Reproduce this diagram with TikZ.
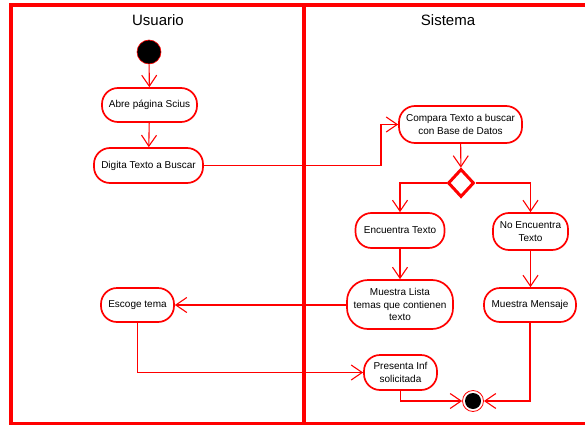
\documentclass[tikz,border=0pt]{standalone}
\usepackage{fontspec}
\setmainfont{Liberation Sans}
\usetikzlibrary{arrows.meta,shapes.geometric}
\definecolor{lanered}{RGB}{255,0,0}
\tikzset{
  act/.style={draw=lanered, line width=1.7pt, rounded corners=16pt, fill=white,
    align=center, inner sep=1pt, font=\fontsize{10}{12.5}\selectfont},
  lane/.style={draw=lanered, line width=3.5pt},
  conn/.style={draw=lanered, line width=1.1pt, -{Straight Barb[length=11pt,width=15pt]}},
  title/.style={font=\fontsize{15}{18}\selectfont},
}
\begin{document}
\begin{tikzpicture}[x=1pt,y=-1pt]
\useasboundingbox (0,0) rectangle (585,425);
% frame
\draw[lane] (585,5) -- (11,5) -- (11,423.5) -- (585,423.5);
\draw[lane] (304,5) -- (304,423.5);
\node[title] (tu) at (158,20) {Usuario};
\node[title] (ts) at (448,20) {Sistema};
% nodes
\node[circle, fill=black, draw=lanered, line width=0.6pt, minimum size=24pt, inner sep=0pt] (start) at (149,52) {};
\node[act, minimum width=95pt, minimum height=34pt] (abre) at (149.5,105) {Abre página Scius};
\node[act, minimum width=109pt, minimum height=35pt] (digita) at (148.5,165.5) {Digita Texto a Buscar};
\node[act, minimum width=123pt, minimum height=37pt] (compara) at (460.5,124.5) {Compara Texto a buscar\\con Base de Datos};
\node[diamond, draw=lanered, line width=3pt, fill=white, minimum width=26pt, minimum height=28pt, inner sep=0pt] (dec) at (461,183) {};
\node[act, minimum width=89pt, minimum height=35pt] (enc) at (400,230.5) {Encuentra Texto};
\node[act, minimum width=75pt, minimum height=37pt] (noenc) at (530.5,231.5) {No Encuentra\\Texto};
\node[act, rounded corners=21pt, minimum width=106pt, minimum height=49pt] (lista) at (400,304.5) {Muestra Lista\\temas que contienen\\texto};
\node[act, minimum width=92pt, minimum height=34pt] (mensaje) at (530,305) {Muestra Mensaje};
\node[act, minimum width=73pt, minimum height=34pt] (escoge) at (137.5,305) {Escoge tema};
\node[act, minimum width=73pt, minimum height=35pt] (presenta) at (400.5,372.5) {Presenta Inf\\solicitada};
\node[circle, draw=lanered, line width=0.8pt, fill=white, minimum size=21pt, inner sep=0pt,
  path picture={\fill[black] (path picture bounding box.center) circle (8pt);}] (final) at (473,401) {};
\coordinate (j1) at (381,0);
% connectors
\draw[conn] (start) -- (abre);
\draw[conn] (abre) -- (digita);
\draw[conn] (digita.east) -- (digita.east -| j1) |- (compara.west);
\draw[conn] (compara) -- (dec);
\draw[conn] (dec.west) -| (enc.north);
\draw[conn] (dec.east) -| (noenc.north);
\draw[conn] (enc) -- (lista);
\draw[conn] (noenc.south) -- (noenc.south |- mensaje.north);
\draw[conn] (lista.west |- escoge.east) -- (escoge.east);
\draw[conn] (escoge.south) |- (presenta.west);
\draw[conn] (presenta.south) |- (final.west);
\draw[conn] (mensaje.south) |- (final.east);
\end{tikzpicture}
\end{document}
